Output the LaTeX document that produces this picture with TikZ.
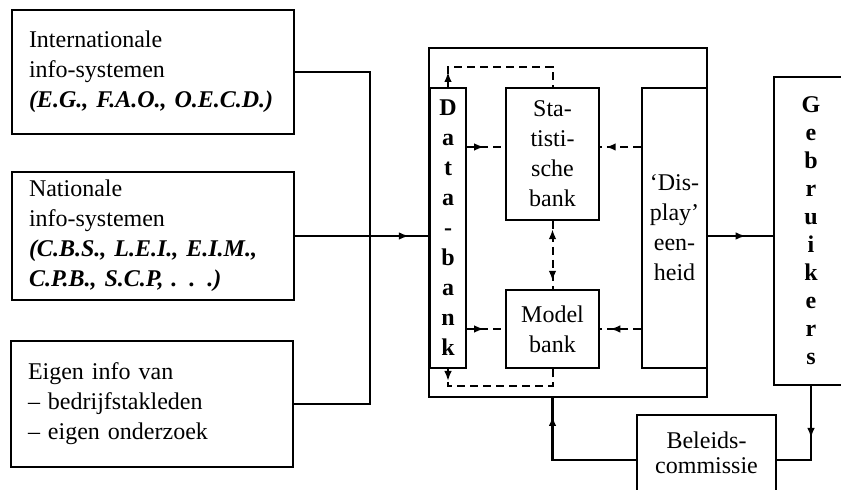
\documentclass[tikz,border=0pt]{standalone}
\usepackage{fontspec}
\setmainfont{Liberation Serif}
\usetikzlibrary{arrows.meta,decorations.markings}

\begin{document}
\begin{tikzpicture}[x=0.5pt,y=-0.5pt,
  font=\fontsize{12}{15}\selectfont,
  box/.style={draw,line width=1pt,inner sep=0pt},
  srcbox/.style={box,align=left,text width=124pt,inner xsep=8.5pt,minimum height=62pt},
  bankbox/.style={box,align=center,minimum width=46.5pt},
  flow/.style={line width=1.2pt},
  feed/.style={line width=1pt,dash pattern=on 4pt off 2.5pt},
  fwd/.style={postaction={decorate,decoration={markings,
      mark=at position #1 with {\arrow{Latex[length=5pt,width=3.8pt]}}}}},
  bwd/.style={postaction={decorate,decoration={markings,
      mark=at position #1 with {\arrowreversed{Latex[length=5pt,width=3.8pt]}}}}}]
\useasboundingbox (0,0) rectangle (841,490);

\node[srcbox] (intl) at (153,72)
  {Internationale\\info-systemen\\\mbox{\textbf{\textit{(E.G., F.A.O., O.E.C.D.)}}}};
\node[srcbox,minimum height=64pt] (natl) at (153,236)
  {Nationale\\info-systemen\\\mbox{\textbf{\textit{(C.B.S., L.E.I., E.I.M.,}}}\\
   \mbox{\textbf{\textit{C.P.B., S.C.P, . . .)}}}};
\node[srcbox,minimum height=63pt] (eigen) at (152,404)
  {Eigen info van\\-- bedrijfstakleden\\-- eigen onderzoek};

\node[box,minimum width=139pt,minimum height=174.5pt] (frame) at (568,222.5) {};
\node[box,align=center,minimum width=18pt,minimum height=140pt,
  font=\fontsize{12}{15}\selectfont\bfseries] (databank) at (448,228)
  {D\\a\\t\\a\\-\\b\\a\\n\\k};
\node[bankbox,minimum height=66pt] (stat) at (552.5,154) {Sta-\\tisti-\\sche\\bank};
\node[bankbox,minimum height=39pt] (model) at (552.5,329) {Model\\bank};
\node[box,align=center,minimum width=32.5pt,minimum height=140pt] (display)
  at (674.5,228) {`Dis-\\play'\\een-\\heid};

\node[box,align=center,minimum width=37pt,minimum height=154pt,
  font=\fontsize{12}{14}\selectfont\bfseries] (gebr) at (811,231)
  {G\\e\\b\\r\\u\\i\\k\\e\\r\\s};
\node[box,align=center,minimum width=69.5pt,minimum height=38pt,
  font=\fontsize{12}{12.5}\selectfont] (beleid) at (706.5,453) {Beleids-\\commissie};

\coordinate (merge) at (370,236);
\draw[flow] (intl.east) -| (merge);
\draw[flow] (eigen.east) -| (merge);
\draw[flow,fwd=0.85] (natl.east) -- (natl.east -| databank.west);

\coordinate (sl) at ([yshift=3.5pt]stat.west);
\coordinate (sr) at ([yshift=3.5pt]stat.east);
\draw[feed,fwd=0.45] (sl -| databank.east) -- (sl);
\draw[feed,fwd=0.86] (sr -| display.west) -- (sr);
\draw[feed,fwd=0.45] (databank.east |- model.west) -- (model.west);
\draw[feed,fwd=0.75] (display.west |- model.east) -- (model.east);
\draw[feed,bwd=0.12,fwd=0.88] (stat.south) -- (model.north);
\draw[feed,fwd=7.5pt] (databank.north) -- ++(0,-20) -| (stat.north);
\draw[feed,fwd=6pt] (databank.south) -- ++(0,17) -| (model.south);

\coordinate (dl) at ([yshift=-4pt]display.east);
\draw[flow,fwd=0.58] (dl) -- (dl -| gebr.west);
\coordinate (br) at ([yshift=-3.5pt]beleid.east);
\coordinate (bw) at ([yshift=-3.5pt]beleid.west);
\draw[flow,fwd=26pt] (gebr.south) |- (br);
\draw[flow,fwd=63.75pt] (bw) -| (model.south |- frame.south);
\end{tikzpicture}
\end{document}
